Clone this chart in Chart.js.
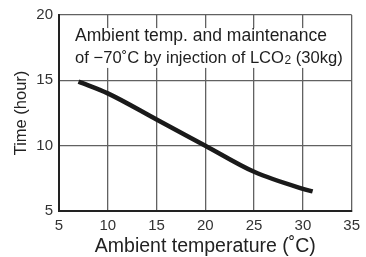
<!DOCTYPE html>
<html><head><meta charset="utf-8">
<script src="https://cdn.jsdelivr.net/npm/chart.js@4"></script>
<style>html,body{margin:0;padding:0;background:#fff}#wrap{width:366px;height:257px}</style>
</head><body><div id="wrap"><canvas id="c" width="366" height="257"></canvas></div>
<script>
const ambientTemp = [7, 10, 15, 20, 25, 30, 31];
const timeHours = [14.9, 14.0, 12.0, 10.0, 8.0, 6.7, 6.5];
const xTicks = [5, 10, 15, 20, 25, 30, 35];
const yTicks = [5, 10, 15, 20];
const noteLine1 = 'Ambient temp. and maintenance';
const noteLine2 = ['of \u221270\u02DAC by injection of LCO', '2', ' (30kg)'];
const xTitle = 'Ambient temperature (\u02DAC)';
const yTitle = 'Time (hour)';

const FONT = 'Liberation Sans, Arial, sans-serif';

const notePlugin = {
  id: 'note',
  afterDraw(chart) {
    const ctx = chart.ctx;
    const xs = chart.scales.x, ys = chart.scales.y;
    ctx.save();
    const x0 = xs.getPixelForValue(6.65);
    const b1 = ys.getPixelForValue(18.0);
    const b2 = ys.getPixelForValue(16.3);
    const top = ys.getPixelForValue(19.0);
    const bot = ys.getPixelForValue(15.95);
    ctx.fillStyle = '#fff';
    ctx.fillRect(x0 - 4, top, xs.getPixelForValue(34.3) - x0 + 4, bot - top);
    ctx.fillStyle = '#1e1e1e';
    ctx.textBaseline = 'alphabetic';
    ctx.font = '17.5px ' + FONT;
    ctx.fillText(noteLine1, x0, b1);
    let x = x0;
    ctx.font = '16.6px ' + FONT;
    ctx.fillText(noteLine2[0], x, b2);
    x += ctx.measureText(noteLine2[0]).width;
    ctx.font = '12px ' + FONT;
    ctx.fillText(noteLine2[1], x + 0.5, b2 + 1);
    x += ctx.measureText(noteLine2[1]).width + 0.5;
    ctx.font = '16.6px ' + FONT;
    ctx.fillText(noteLine2[2], x, b2);
    ctx.restore();
  }
};

new Chart(document.getElementById('c'), {
  type: 'scatter',
  data: {
    datasets: [{
      data: ambientTemp.map((x, i) => ({x, y: timeHours[i]})),
      showLine: true,
      borderColor: '#1a1a1a',
      borderWidth: 4.5,
      pointRadius: 0,
      cubicInterpolationMode: 'monotone',
      borderCapStyle: 'butt'
    }]
  },
  options: {
    responsive: false,
    animation: false,
    layout: { padding: { top: 13, right: 12, left: 0, bottom: 0 } },
    plugins: { legend: { display: false }, tooltip: { enabled: false } },
    scales: {
      x: {
        type: 'linear', min: 5, max: 35,
        afterBuildTicks: s => { s.ticks = xTicks.map(v => ({value: v})); },
        afterFit: s => { s.height = 46; },
        grid: { color: '#616161', lineWidth: 1.3, drawTicks: false },
        border: { color: '#222', width: 2 },
        ticks: { color: '#333', font: { size: 15, family: FONT }, padding: 6, maxRotation: 0 },
        title: { display: true, text: xTitle, color: '#222', font: { size: 19.5, family: FONT }, padding: { top: 2, bottom: -1 } }
      },
      y: {
        type: 'linear', min: 5, max: 20,
        afterBuildTicks: s => { s.ticks = yTicks.map(v => ({value: v})); },
        afterFit: s => { s.width = 59; },
        grid: { color: '#616161', lineWidth: 1.3, drawTicks: false },
        border: { color: '#222', width: 2 },
        ticks: { color: '#333', font: { size: 15, family: FONT }, padding: 6 },
        title: { display: true, text: yTitle, color: '#222', font: { size: 16.5, family: FONT }, padding: { top: 12, bottom: 0 } }
      }
    }
  },
  plugins: [notePlugin]
});
</script></body></html>
